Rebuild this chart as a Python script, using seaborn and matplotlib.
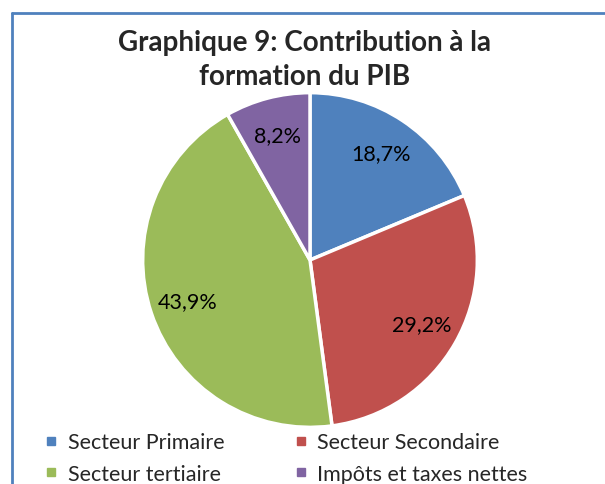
import matplotlib
matplotlib.use("Agg")
import matplotlib.pyplot as plt
from matplotlib.lines import Line2D
import numpy as np
import seaborn as sns

sns.set_theme(style="white")
plt.rcParams['font.family'] = ['Lato', 'DejaVu Sans']

categories = ["Secteur Primaire", "Secteur Secondaire", "Secteur tertiaire", "Impôts et taxes nettes"]
values = [18.7, 29.2, 43.9, 8.2]
labels = ["18,7%", "29,2%", "43,9%", "8,2%"]
colors = ["#4F81BD", "#C0504D", "#9BBB59", "#8064A2"]
title = "Graphique 9: Contribution à la\nformation du PIB"

W, H = 605, 485
fig = plt.figure(figsize=(W / 100, H / 100), dpi=100)
fig.patch.set_facecolor("white")

cx, cy, r = 310, 261, 169
ax = fig.add_axes([(cx - r) / W, (H - cy - r) / H, 2 * r / W, 2 * r / H])
wedges, texts = ax.pie(values, colors=colors, startangle=90, counterclock=False,
                       wedgeprops=dict(edgecolor="white", linewidth=2.5))
tot = sum(values)
cum = 0
for v, lab in zip(values, labels):
    mid = np.deg2rad(90 - (cum + v / 2) / tot * 360)
    cum += v
    d = 0.77
    ax.text(d * np.cos(mid), d * np.sin(mid), lab, ha="center", va="center",
            fontsize=15.5, color="black")
ax.set_xlim(-1.01, 1.01)
ax.set_ylim(-1.01, 1.01)
ax.set_aspect("equal")
ax.axis("off")

fig.text(305 / W, 1 - 60 / H, title, ha="center", va="center", fontsize=20,
         fontweight="bold", linespacing=1.35)

# border (chart area frame, cropped at right/bottom)
fig.add_artist(Line2D([12 / W, 1], [1 - 14 / H, 1 - 14 / H], color="#4F81BD", lw=2))
fig.add_artist(Line2D([12 / W, 12 / W], [0, 1 - 14 / H], color="#4F81BD", lw=2))

order = [0, 2, 1, 3]
handles = [Line2D([], [], marker="s", linestyle="none", markersize=6,
                  markerfacecolor=colors[i], markeredgecolor=colors[i]) for i in order]
fig.legend(handles, [categories[i] for i in order], ncol=2,
           loc="center left", bbox_to_anchor=(46 / W, 1 - 459 / H),
           frameon=False, fontsize=15.5, handlelength=0.5, handletextpad=0.5,
           columnspacing=3.3, labelspacing=0.55, borderpad=0, borderaxespad=0)

fig.savefig("out.png", dpi=100)
